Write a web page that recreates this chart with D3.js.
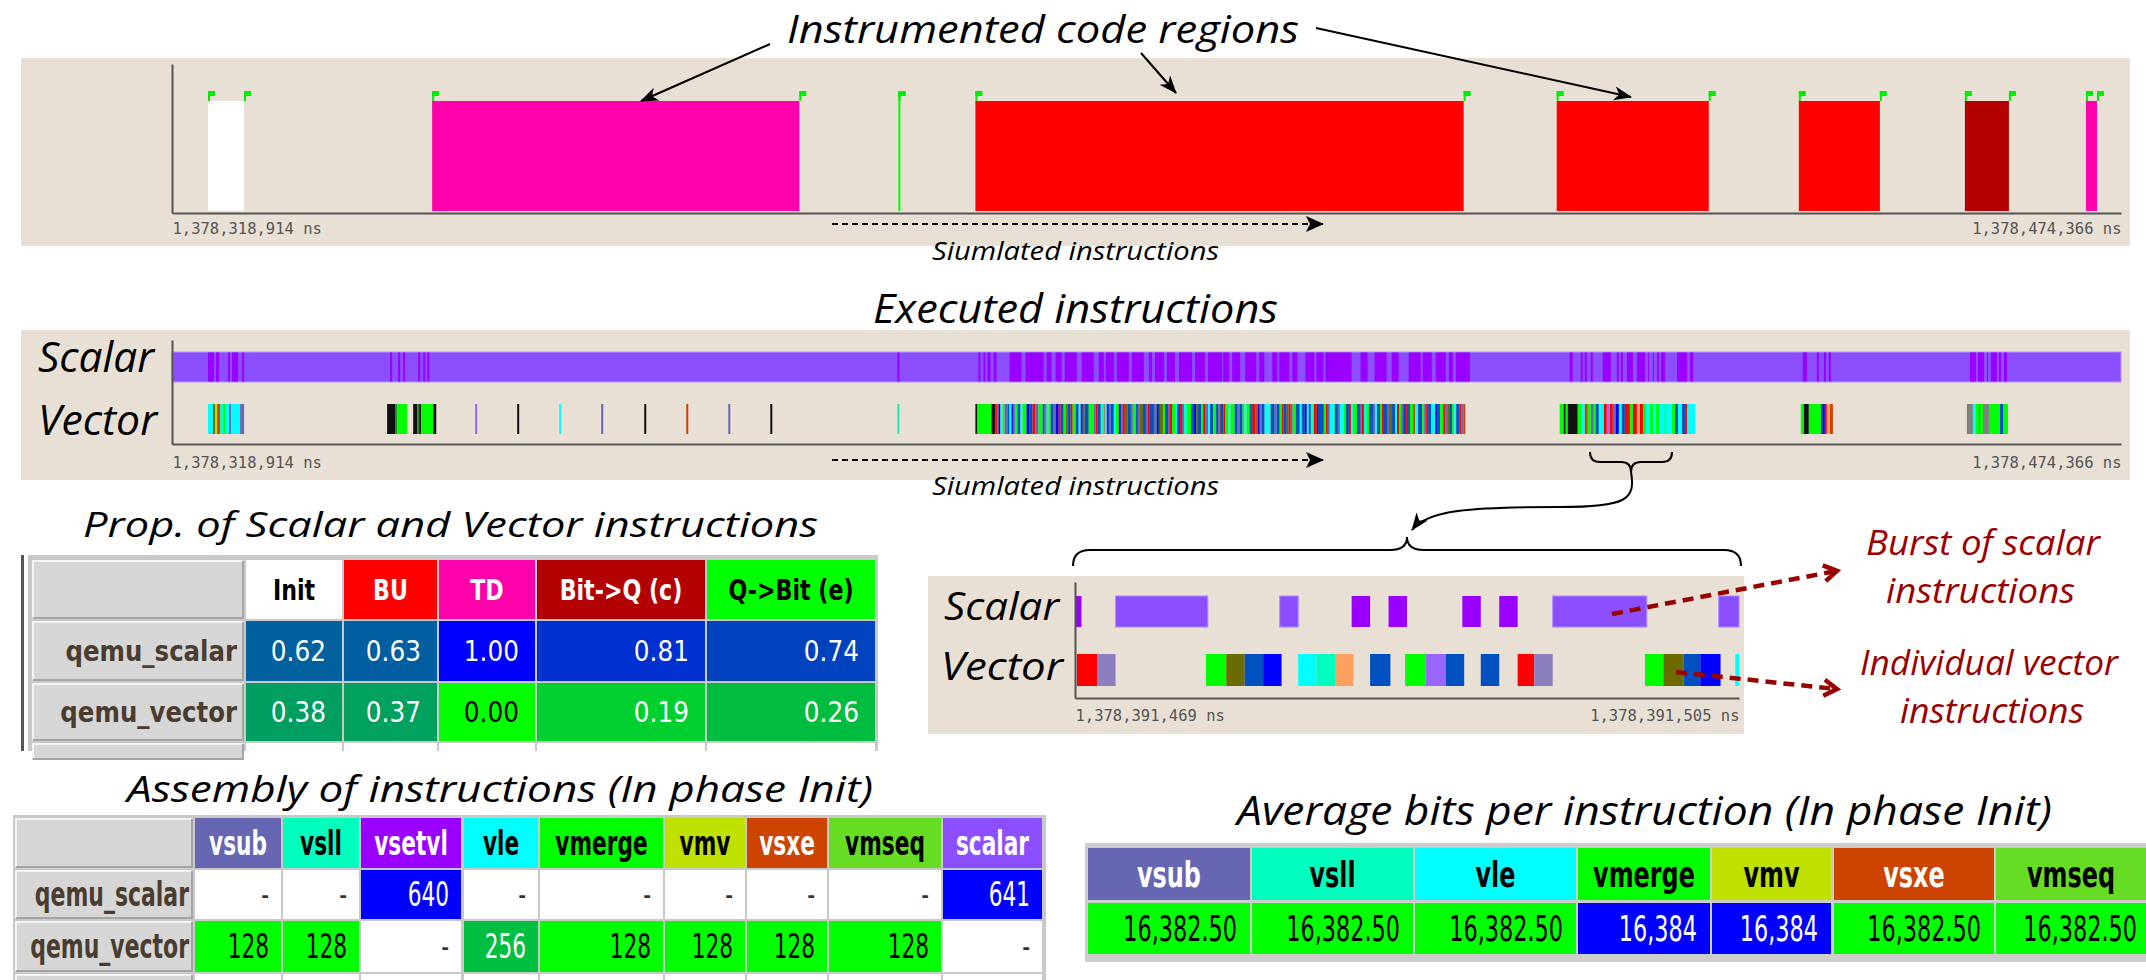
<!DOCTYPE html>
<html><head><meta charset="utf-8">
<script src="https://cdnjs.cloudflare.com/ajax/libs/d3/7.8.5/d3.min.js"></script>
<style>html,body{margin:0;padding:0;background:#fff;overflow:hidden} svg{display:block}</style>
</head><body>
<svg id="c" width="2146" height="980"></svg>
<script>
// ===================== DATA =====================
// Overview trace window (ns)
const tStart = 1378318914, tEnd = 1378474366;
// Phases / instrumented code regions
const phases = ["Init", "BU", "TD", "Bit->Q (c)", "Q->Bit (e)"];
const phaseColors = ["#ffffff", "#ff0000", "#ff00aa", "#b30000", "#00ff00"];
const phaseTextColors = ["#000", "#fff", "#fff", "#fff", "#000"];
// region start / end as ns offsets from tStart
const regionStart = [2873, 20748, 57935, 64080, 110444, 129755, 143002, 152658];
const regionEnd   = [5746, 50035, 57955, 103022, 122573, 136219, 146513, 153536];
const regionPhase = ["Init", "TD", "Q->Bit (e)", "BU", "BU", "BU", "Bit->Q (c)", "TD"];

// Instruction kinds (code letter -> colour)
const instrKeys   = ["g", "c", "a", "s", "y", "x", "l", "d", "L", "b", "B", "r", "o", "O", "k", "p", "n", "m", "t", "q"];
const instrNames  = ["vmerge", "vle", "vsll", "vsub", "vmv", "vsxe", "vmseq", "vsetvl", "scalar", "vop-b", "vop-B", "vop-r", "vop-o", "vop-O", "vop-k", "vop-p", "vop-n", "vop-m", "vop-t", "vop-q"];
const instrColors = ["#00ff00", "#00ffff", "#00ffbf", "#6666b3", "#c0e000", "#cc4400", "#66dd22", "#9900ff", "#8c4fff", "#0050c0", "#0000ff", "#ff0000", "#6b6b00", "#ffa060", "#111111", "#9966ff", "#808080", "#228822", "#1de9b6", "#8c7fbf"];

// Executed-instruction bursts: start (ns offset) + sequence "<kind><duration in units>", "_" = idle
const SEQ_UNIT_NS = 80;
const scalarSpanStart = 0, scalarSpanEnd = 155452;   // continuous scalar activity
const vsetvlStart = [2873, 17396, 57855, 64319, 111481, 130074, 143401];
const vsetvlSeq = [
  "d6 _2 d3 _9 d2 _2 d6 _4 d2",
  "d2 _6 d2 _3 d2 _13 d2 _3 d2 _2 d2",
  "d2",
  "d2 _3 d2 _2 d3 _3 d3 _13 d12 _4 d18 _3 d5 _4 d6 _3 d12 _5 d12 _5 d5 _2 d8 _3 d12 _3 d12 _5 d3 _3 d9 _3 d8 _4 d13 _3 d10 _3 d14 _1 d6 _3 d8 _5 d11 _3 d5 _8 d5 _2 d10 _3 d5 _8 d9 _2 d7 _2 d26 _9 d7 _7 d12 _5 d7 _10 d12 _2 d9 _4 d10 _3 d4 _3 d14",
  "d3 _8 d2 _2 d2 _4 d2 _10 d8 _6 d2 _2 d2 _4 d6 _4 d8 _3 d1 _4 d1 _3 d2 _2 d4 _12 d10 _3 d3",
  "d4 _10 d2 _5 d2 _3 d2",
  "d6 _2 d6 _3 d1 _3 d6 _2 d2 _3 d3"
];
const vectorStart = [2873, 17157, 24179, 27531, 30883, 34234, 37666, 41017, 44369, 47720, 57855, 64079, 83631, 110683, 129914, 143161];
const vectorSeq = [
  "c5 o2 y2 x3 a3 g2 c4 s2 c9 s4",
  "k8 m2 g10 _6 k4 m2 k2 g12 k3",
  "p2", "k2", "c2", "s2", "k2", "x2", "s2", "k2",
  "t2",
  "k2 g14 k4 r2 x1 B2 c2 g2 s3 b2 c2 B2 s2 g2 b3 c2 g4 B3 b3 r3 s3 g4 b2 s2 a2 g2 b3 s2 B3 r2 b3 g2 o2 b3 r2 g3 b3 c2 B2 o2 b4 g5 s2 r2 b3 a3 x1 c2 B2 s2 b3 c2 g3 B2 s2 r2 o3 b3 s2 g3 b2 s2 o3 b3 s2 r2 b4 s3 k1 b2 o3 g2 b3 s2 r2 g3 c2 b3 r2 s2 a3 g4 b3 B2 o2 b3 g2 r2 s3 c2 b3 g3 b2 s2 x1",
  "b3 r2 g3 c2 g4 b3 s2 b3 g2 c2 g3 b2 k1 r3 x2 B2 s2 b3 c4 a2 b4 s2 b3 g2 r2 b3 o2 r2 s2 g3 b4 c2 b3 B2 c2 b2 a3 r3 k1 b6 g2 r2 s2 c3 a2 b3 s2 c4 g2 b3 r2 c2 g4 b3 s2 r2 a3 g2 b4 s2 c2 b3 g2 r2 b3 s2 o3 b3 c2 r2 g2 s2 b3 r2 b2 g3 x2 c3 b4 g2 s2 r2 b3 a2 c2 B2 b3 g3 r2 s2 o2 b3 g2 c2 b3 r2 s2 x2",
  "g4 k2 g2 k10 g4 c3 x3 g3 s3 g2 b3 c5 r3 p3 r3 s3 B3 c3 b3 r5 g3 r4 O3 r3 g3 c4 g3 c3 g3 c5 a3 c5 g3 b3 c4 b3 r2 c8",
  "g3 k5 g12 b2 B2 r2 O3 x3",
  "n6 c3 g3 s1 g3 n6 g11 b3 g5"
];

// Zoomed window (ns)
const zoomStart = 1378391469, zoomEnd = 1378391505;
// [start offset ns, end offset ns, kind]
const zoomScalar = [[0, 0.35, "d"], [2.2, 7.2, "L"], [11.1, 12.1, "L"], [15.0, 16.0, "d"], [17.0, 18.0, "d"],
                    [21.0, 22.0, "d"], [23.0, 24.0, "d"], [25.9, 31.0, "L"], [34.9, 36.0, "L"]];
const zoomVector = [[0.1, 1.2, "r"], [1.2, 2.2, "q"], [7.1, 8.2, "g"], [8.2, 9.2, "o"], [9.2, 10.2, "b"], [10.2, 11.2, "B"],
                    [12.1, 13.1, "c"], [13.1, 14.1, "a"], [14.1, 15.1, "O"], [16.0, 17.1, "b"], [17.9, 19.0, "g"],
                    [19.0, 20.1, "p"], [20.1, 21.1, "b"], [22.0, 23.0, "b"], [24.0, 24.9, "r"], [24.9, 25.9, "q"],
                    [30.9, 31.9, "g"], [31.9, 33.0, "o"], [33.0, 33.9, "b"], [33.9, 35.0, "B"], [35.8, 36.0, "c"]];

// Table: proportion of scalar / vector instructions per phase
const propRows = ["qemu_scalar", "qemu_vector"];
const propScalar = [0.62, 0.63, 1.00, 0.81, 0.74];
const propVector = [0.38, 0.37, 0.00, 0.19, 0.26];

// Table: assembly of instructions (phase Init)
const asmCols = ["vsub", "vsll", "vsetvl", "vle", "vmerge", "vmv", "vsxe", "vmseq", "scalar"];
const asmScalar = [null, null, 640, null, null, null, null, null, 641];
const asmVector = [128, 128, null, 256, 128, 128, 128, 128, null];

// Table: average bits per instruction (phase Init)
const bitsCols = ["vsub", "vsll", "vle", "vmerge", "vmv", "vsxe", "vmseq"];
const bitsVals = [16382.5, 16382.5, 16382.5, 16384, 16384, 16382.5, 16382.5];

const lightHeaderText = ["vsub", "vsetvl", "vsxe", "scalar"];

// ===================== DRAWING =====================
const svg = d3.select("#c");
const BG = "#e8dfd5";
const TFONT = "'Open Sans','Noto Sans',sans-serif";
const CFONT = "'DejaVu Sans Condensed','DejaVu Sans',sans-serif";
const MONO = "'DejaVu Sans Mono','Liberation Mono',monospace";
const kindColor = d3.scaleOrdinal().domain(instrKeys).range(instrColors);
const nameColor = d3.scaleOrdinal().domain(instrNames).range(instrColors);
const phaseColor = d3.scaleOrdinal().domain(phases).range(phaseColors);

function parseSeq(str, start, unit) {
  const out = []; let t = start;
  str.trim().split(/\s+/).forEach(tok => {
    const k = tok[0], d = (+tok.slice(1)) * unit;
    if (k !== "_") out.push({ s: t, e: t + d, k });
    t += d;
  });
  return out;
}

// defs / markers
const defs = svg.append("defs");
function marker(id, d, w, h, rx, ry, fill, stroke, sw) {
  defs.append("marker").attr("id", id).attr("markerUnits", "userSpaceOnUse")
    .attr("viewBox", `-4 -4 ${w + 8} ${h + 8}`).attr("markerWidth", w + 8).attr("markerHeight", h + 8)
    .attr("refX", rx).attr("refY", ry).attr("orient", "auto")
    .append("path").attr("d", d).attr("fill", fill).attr("stroke", stroke || "none").attr("stroke-width", sw || 0)
    .attr("stroke-linejoin", "miter");
}
marker("ahS", "M0,0 L18,7 L0,14 L5,7 Z", 18, 14, 17, 7, "#000");
marker("ahB", "M0,0 L18,8 L0,16 L4,8 Z", 18, 16, 17, 8, "#000");
marker("ahR", "M0,0 L13,8 L0,16", 14, 16, 12, 8, "none", "#990000", 4.5);

function itext(txt, x0, x1, base, size, color) {
  svg.append("text").attr("x", x0).attr("y", base).attr("font-family", TFONT).attr("font-style", "italic")
    .attr("font-size", size).attr("fill", color || "#000").attr("textLength", x1 - x0)
    .attr("lengthAdjust", "spacingAndGlyphs").text(txt);
}

function timeAxes(x, yTop, yBase, base, pad) {
  const yS = d3.scaleLinear().domain([0, 1]).range([yBase, yTop]);
  const gx = svg.append("g").attr("transform", `translate(0,${yBase})`)
    .call(d3.axisBottom(x).tickValues(x.domain()).tickSize(0).tickSizeOuter(0).tickPadding(pad)
      .tickFormat(d => d3.format(",")(base + d) + " ns"));
  gx.select(".domain").attr("stroke", "#555").attr("stroke-width", 2.2);
  gx.selectAll("text").attr("font-family", MONO).attr("font-size", 15.5).attr("fill", "#555")
    .attr("text-anchor", (d, i) => i === 0 ? "start" : "end");
  const gy = svg.append("g").attr("transform", `translate(${x.range()[0]},0)`)
    .call(d3.axisLeft(yS).tickValues([]).tickSizeOuter(0));
  gy.select(".domain").attr("stroke", "#555").attr("stroke-width", 2);
}

// ---------- Panel 1: instrumented regions ----------
svg.append("rect").attr("x", 21).attr("y", 58).attr("width", 2109).attr("height", 188).attr("fill", BG);
const x1 = d3.scaleLinear().domain([0, tEnd - tStart]).range([172, 2121]);
const regions = regionStart.map((s, i) => ({ s, e: regionEnd[i], p: regionPhase[i] }));
svg.append("g").selectAll("rect").data(regions).join("rect")
  .attr("x", d => x1(d.s)).attr("width", d => Math.max(2, x1(d.e) - x1(d.s)))
  .attr("y", 101).attr("height", 110).attr("fill", d => phaseColor(d.p));
const flags = regions.flatMap(d => [d.s, d.e]);
const gf = svg.append("g");
gf.selectAll("rect.st").data(flags).join("rect").attr("class", "st")
  .attr("x", d => x1(d)).attr("y", 91).attr("width", 2).attr("height", 10).attr("fill", "#00ee00");
gf.selectAll("rect.fl").data(flags).join("rect").attr("class", "fl")
  .attr("x", d => x1(d)).attr("y", 91).attr("width", 7).attr("height", 5).attr("fill", "#00ee00");
timeAxes(x1, 64, 213, tStart, 10);

// ---------- Panel 2: executed instructions ----------
svg.append("rect").attr("x", 21).attr("y", 330).attr("width", 2109).attr("height", 150).attr("fill", BG);
const x2 = d3.scaleLinear().domain([0, tEnd - tStart]).range([172, 2121]);
svg.append("rect").attr("x", x2(scalarSpanStart)).attr("width", x2(scalarSpanEnd) - x2(scalarSpanStart))
  .attr("y", 352).attr("height", 30).attr("fill", kindColor("L")).attr("stroke", "#b596ff").attr("stroke-width", 1);
const vsetvl = vsetvlStart.flatMap((s, i) => parseSeq(vsetvlSeq[i], s, SEQ_UNIT_NS));
svg.append("g").selectAll("rect").data(vsetvl).join("rect")
  .attr("x", d => x2(d.s)).attr("width", d => x2(d.e) - x2(d.s)).attr("y", 352.5).attr("height", 29)
  .attr("fill", d => kindColor(d.k));
const vec = vectorStart.flatMap((s, i) => parseSeq(vectorSeq[i], s, SEQ_UNIT_NS));
svg.append("g").selectAll("rect").data(vec).join("rect")
  .attr("x", d => x2(d.s)).attr("width", d => x2(d.e) - x2(d.s)).attr("y", 404).attr("height", 30)
  .attr("fill", d => kindColor(d.k));
timeAxes(x2, 340, 444, tStart, 13);
itext("Scalar", 38, 154, 372, 42);
itext("Vector", 38, 157, 435, 42);

// ---------- Titles & annotation arrows ----------
itext("Instrumented code regions", 787, 1299, 43, 39);
itext("Siumlated instructions", 932, 1219, 260, 25);
itext("Executed instructions", 873, 1278, 323, 40);
itext("Siumlated instructions", 932, 1219, 495, 25);
const arrows = [[770, 44, 641, 101], [1141, 53, 1176, 93], [1316, 28, 1631, 97]];
svg.append("g").selectAll("line").data(arrows).join("line")
  .attr("x1", d => d[0]).attr("y1", d => d[1]).attr("x2", d => d[2]).attr("y2", d => d[3])
  .attr("stroke", "#000").attr("stroke-width", 2).attr("marker-end", "url(#ahS)");
[224, 460].forEach(y => svg.append("line").attr("x1", 832).attr("x2", 1323).attr("y1", y).attr("y2", y)
  .attr("stroke", "#000").attr("stroke-width", 2).attr("stroke-dasharray", "6,4").attr("marker-end", "url(#ahB)"));

// braces and curved arrow
svg.append("path").attr("d", "M1590,452 Q1590,462 1600,462 L1621,462 Q1631,462 1631,472 Q1631,462 1641,462 L1662,462 Q1672,462 1672,452")
  .attr("fill", "none").attr("stroke", "#000").attr("stroke-width", 2);
svg.append("path").attr("d", "M1631,472 C1636,500 1626,507 1560,507 C1470,507 1427,510 1412,530")
  .attr("fill", "none").attr("stroke", "#000").attr("stroke-width", 2).attr("marker-end", "url(#ahS)");
svg.append("path").attr("d", "M1073,566 Q1073,550 1090,550 L1390,550 Q1407,550 1407,537 Q1407,550 1424,550 L1724,550 Q1741,550 1741,566")
  .attr("fill", "none").attr("stroke", "#000").attr("stroke-width", 2);

// ---------- Panel 3: zoomed window ----------
svg.append("rect").attr("x", 928).attr("y", 576).attr("width", 816).attr("height", 158).attr("fill", BG);
const x3 = d3.scaleLinear().domain([0, zoomEnd - zoomStart]).range([1075, 1739]);
svg.append("g").selectAll("rect").data(zoomScalar).join("rect")
  .attr("x", d => x3(d[0])).attr("width", d => x3(d[1]) - x3(d[0])).attr("y", 596).attr("height", 31)
  .attr("fill", d => kindColor(d[2])).attr("stroke", d => d[2] === "L" ? "#a98aff" : "none").attr("stroke-width", 1);
svg.append("g").selectAll("rect").data(zoomVector).join("rect")
  .attr("x", d => x3(d[0])).attr("width", d => x3(d[1]) - x3(d[0])).attr("y", 654).attr("height", 32)
  .attr("fill", d => kindColor(d[2]));
timeAxes(x3, 582, 698, zoomStart, 12);
itext("Scalar", 944, 1059, 620, 38);
itext("Vector", 941, 1063, 680, 38);

// red annotations
const RED = "#990000";
itext("Burst of scalar", 1866, 2100, 555, 34, RED);
itext("instructions", 1886, 2075, 603, 34, RED);
itext("Individual vector", 1860, 2118, 675, 34, RED);
itext("instructions", 1900, 2084, 723, 34, RED);
[[1612, 614, 1836, 571], [1676, 672, 1836, 689]].forEach(d => svg.append("line")
  .attr("x1", d[0]).attr("y1", d[1]).attr("x2", d[2]).attr("y2", d[3]).attr("stroke", RED)
  .attr("stroke-width", 4.5).attr("stroke-dasharray", "11,7").attr("marker-end", "url(#ahR)"));

// ---------- Tables ----------
function cellText(x0, x1, y0, y1, txt, color, anchor, bold, size, sx, pad) {
  const tx = anchor === "middle" ? (x0 + x1) / 2 : (anchor === "end" ? x1 - pad : x0 + pad);
  svg.append("text").attr("transform", `translate(${tx},${(y0 + y1) / 2}) scale(${sx},1)`)
    .attr("dy", "0.36em").attr("text-anchor", anchor).attr("font-family", CFONT)
    .attr("font-weight", bold ? "bold" : "normal").attr("font-size", size).attr("fill", color).text(txt);
}
function rowHeader(x0, x1, y0, y1) {
  svg.append("rect").attr("x", x0).attr("y", y0).attr("width", x1 - x0).attr("height", y1 - y0).attr("fill", "#d6d6d6");
  svg.append("path").attr("d", `M${x0 + 1},${y1 - 1}V${y0 + 1}H${x1 - 1}`).attr("fill", "none").attr("stroke", "#f4f4f4").attr("stroke-width", 2);
  svg.append("path").attr("d", `M${x0 + 1},${y1 - 1}H${x1 - 1}V${y0 + 1}`).attr("fill", "none").attr("stroke", "#a4a4a4").attr("stroke-width", 2);
}
function drawRect(x0, x1, y0, y1, fill) {
  svg.append("rect").attr("x", x0).attr("y", y0).attr("width", x1 - x0).attr("height", y1 - y0).attr("fill", fill);
}

// Table 1
itext("Prop. of Scalar and Vector instructions", 83, 818, 537, 34);
{
  const cols = [[246, 342], [344, 437], [439, 535], [537, 705], [707, 875]];
  const rh = [32, 244];
  const rows = [[560, 619], [621, 681], [683, 741]];
  const col = d3.scaleLinear().domain([0, 1]).range(["#00ff00", "#0000ff"]).interpolate(d3.interpolateRgb);
  drawRect(28, 878, 555, 751, "#c9c9c9");
  drawRect(21, 24, 555, 751, "#555");
  rowHeader(rh[0], rh[1], rows[0][0], rows[0][1]);
  phases.forEach((p, i) => {
    drawRect(cols[i][0], cols[i][1], rows[0][0], rows[0][1], phaseColor(p));
    cellText(cols[i][0], cols[i][1], rows[0][0], rows[0][1], p, phaseTextColors[i], "middle", true, 28, 0.88, 0);
  });
  [propScalar, propVector].forEach((vals, r) => {
    const [y0, y1] = rows[r + 1];
    rowHeader(rh[0], rh[1], y0, y1);
    cellText(rh[0], rh[1], y0, y1, propRows[r], "#4a3c30", "end", true, 28, 0.97, 7);
    vals.forEach((v, i) => {
      drawRect(cols[i][0], cols[i][1], y0, y1, col(v));
      cellText(cols[i][0], cols[i][1], y0, y1, d3.format(".2f")(v), v < 0.1 ? "#000" : "#fff", "end", false, 29, 0.95, 16);
    });
  });
  rowHeader(rh[0], rh[1], 743, 760);
  cols.forEach(c => drawRect(c[0], c[1], 743, 760, "#fff"));
}

// Table 2 (assembly)
itext("Assembly of instructions (In phase Init)", 127, 873, 802, 37);
{
  const cols = [[195, 281], [283, 359], [361, 461], [464, 538], [540, 663], [665, 745], [747, 827], [829, 941], [943, 1042]];
  const rh = [15, 193];
  const rows = [[818, 868], [870, 919], [921, 972]];
  const all = asmScalar.concat(asmVector).filter(v => v != null);
  const col = d3.scaleLinear().domain(d3.extent(all)).range(["#00ff00", "#0000ff"]);
  const tnorm = d3.scaleLinear().domain(d3.extent(all)).range([0, 1]);
  drawRect(13, 1046, 815, 980, "#c9c9c9");
  rowHeader(rh[0], rh[1], rows[0][0], rows[0][1]);
  asmCols.forEach((n, i) => {
    drawRect(cols[i][0], cols[i][1], rows[0][0], rows[0][1], nameColor(n));
    cellText(cols[i][0], cols[i][1], rows[0][0], rows[0][1], n, lightHeaderText.includes(n) ? "#fff" : "#000", "middle", true, 33, 0.73, 0);
  });
  [asmScalar, asmVector].forEach((vals, r) => {
    const [y0, y1] = rows[r + 1];
    rowHeader(rh[0], rh[1], y0, y1);
    cellText(rh[0], rh[1], y0, y1, propRows[r], "#4a3c30", "end", true, 33, 0.74, 4);
    vals.forEach((v, i) => {
      drawRect(cols[i][0], cols[i][1], y0, y1, v == null ? "#fff" : col(v));
      cellText(cols[i][0], cols[i][1], y0, y1, v == null ? "-" : d3.format(",")(v),
        v == null ? "#333" : (tnorm(v) < 0.1 ? "#000" : "#fff"), "end", false, 33, 0.73, 12);
    });
  });
  rowHeader(rh[0], rh[1], 974, 990);
  cols.forEach(c => drawRect(c[0], c[1], 974, 990, "#fff"));
}

// Table 3 (average bits)
itext("Average bits per instruction (In phase Init)", 1237, 2052, 825, 40);
{
  const cols = [[1088, 1250], [1252, 1413], [1415, 1576], [1578, 1710], [1712, 1831], [1834, 1994], [1996, 2170]];
  const rows = [[848, 900], [903, 954]];
  const col = d3.scaleLinear().domain(d3.extent(bitsVals)).range(["#00ff00", "#0000ff"]);
  const tnorm = d3.scaleLinear().domain(d3.extent(bitsVals)).range([0, 1]);
  drawRect(1085, 2146, 843, 962, "#cdcdcd");
  drawRect(1085, 2146, 962, 980, "#fff");
  bitsCols.forEach((n, i) => {
    drawRect(cols[i][0], cols[i][1], rows[0][0], rows[0][1], nameColor(n));
    cellText(cols[i][0], Math.min(cols[i][1], 2146), rows[0][0], rows[0][1], n, lightHeaderText.includes(n) ? "#fff" : "#000", "middle", true, 35, 0.76, 0);
    const v = bitsVals[i];
    drawRect(cols[i][0], cols[i][1], rows[1][0], rows[1][1], col(v));
    cellText(cols[i][0], Math.min(cols[i][1], 2150), rows[1][0], rows[1][1],
      Number.isInteger(v) ? d3.format(",")(v) : d3.format(",.2f")(v), tnorm(v) < 0.1 ? "#000" : "#fff", "end", false, 35, 0.71, 13);
  });
}
</script>
</body></html>
